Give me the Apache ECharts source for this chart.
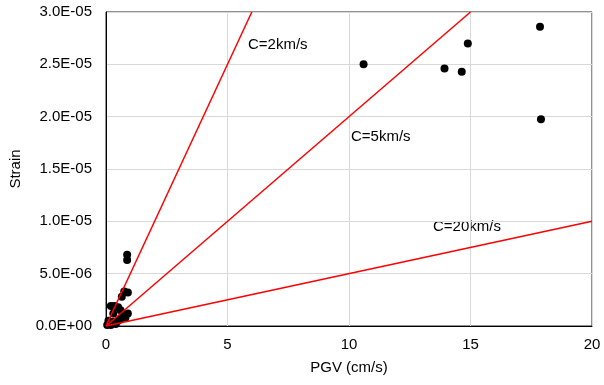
<!DOCTYPE html>
<html><head><meta charset="utf-8">
<script src="https://cdn.jsdelivr.net/npm/echarts@6/dist/echarts.min.js"></script>
<style>html,body{margin:0;padding:0;background:#fff}#c{width:604px;height:385px}</style>
</head><body><div id="c"></div>
<script>
const pgv = [10.6, 13.93, 14.64, 14.89, 17.86, 17.9,
  0.87, 0.87, 0.75, 0.9, 0.65, 0.2, 0.35, 0.5, 0.6, 0.3, 0.7, 0.9, 0.8, 0.1, 0.3, 0.5, 0.4, 0.05, 0.2, 0.6];
const strain = [2.50e-5, 2.46e-5, 2.43e-5, 2.70e-5, 2.86e-5, 1.975e-5,
  6.8e-6, 6.3e-6, 3.3e-6, 3.2e-6, 2.8e-6, 1.9e-6, 1.9e-6, 1.8e-6, 1.5e-6, 1.2e-6, 1.1e-6, 1.2e-6, 0.8e-6, 0.5e-6, 0.4e-6, 0.5e-6, 0.2e-6, 0.1e-6, 0.1e-6, 0.7e-6];
const waveSpeeds = [2, 5, 20];            // km/s
const lineEndPgv = [6, 15, 20];           // cm/s
const lineLabels = ['C=2km/s', 'C=5km/s', 'C=20km/s'];
const xTicks = [0, 5, 10, 15, 20];
const yTicks = [0, 5e-6, 1e-5, 1.5e-5, 2e-5, 2.5e-5, 3e-5];

function fmtE(v){
  if (v === 0) return '0.0E+00';
  let s = v.toExponential(1);
  let [m, e] = s.split('e');
  let sign = e[0] === '-' ? '-' : '+';
  let d = e.replace(/[+-]/, '');
  if (d.length < 2) d = '0' + d;
  return m + 'E' + sign + d;
}

const font = 'Liberation Sans, Arial, sans-serif';
const chart = echarts.init(document.getElementById('c'));
const series = [];
waveSpeeds.forEach((c, i) => {
  series.push({
    type: 'line', silent: true, symbol: 'none',
    lineStyle: {color: '#ff0000', width: 1.5},
    data: [[0, 0], [lineEndPgv[i], lineEndPgv[i] / (c * 1e5)]],
    z: 3
  });
});
series.push({
  type: 'scatter', symbolSize: 8,
  itemStyle: {color: '#000', opacity: 1},
  data: pgv.map((x, i) => [x, strain[i]]),
  z: 2
});

chart.setOption({
  animation: false,
  grid: {left: 103, right: 12, top: 12, bottom: 59, show: true, borderColor: '#222', borderWidth: 1},
  xAxis: {
    type: 'value', min: 0, max: 20, interval: 5,
    name: 'PGV (cm/s)', nameLocation: 'middle', nameGap: 34,
    nameTextStyle: {fontFamily: font, fontSize: 15, color: '#000'},
    axisLine: {lineStyle: {color: '#000'}},
    axisTick: {show: false},
    axisLabel: {fontFamily: font, fontSize: 15, color: '#000', margin: 11},
    splitLine: {lineStyle: {color: '#d9d9d9'}}
  },
  yAxis: {
    type: 'value', min: 0, max: 3e-5, interval: 5e-6,
    name: 'Strain', nameLocation: 'middle', nameGap: 83,
    nameTextStyle: {fontFamily: font, fontSize: 15, color: '#000'},
    axisLine: {lineStyle: {color: '#000'}},
    axisTick: {show: false},
    axisLabel: {fontFamily: font, fontSize: 15, color: '#000', margin: 14, formatter: fmtE},
    splitLine: {lineStyle: {color: '#d9d9d9'}}
  },
  graphic: [
    {type: 'text', left: 248, top: 37, style: {text: lineLabels[0], font: '15px ' + font, fill: '#000'}},
    {type: 'text', left: 351, top: 129, style: {text: lineLabels[1], font: '15px ' + font, fill: '#000'}},
    {type: 'text', left: 433, top: 219, style: {text: lineLabels[2], font: '15px ' + font, fill: '#000'}}
  ],
  series: series
});
</script></body></html>
